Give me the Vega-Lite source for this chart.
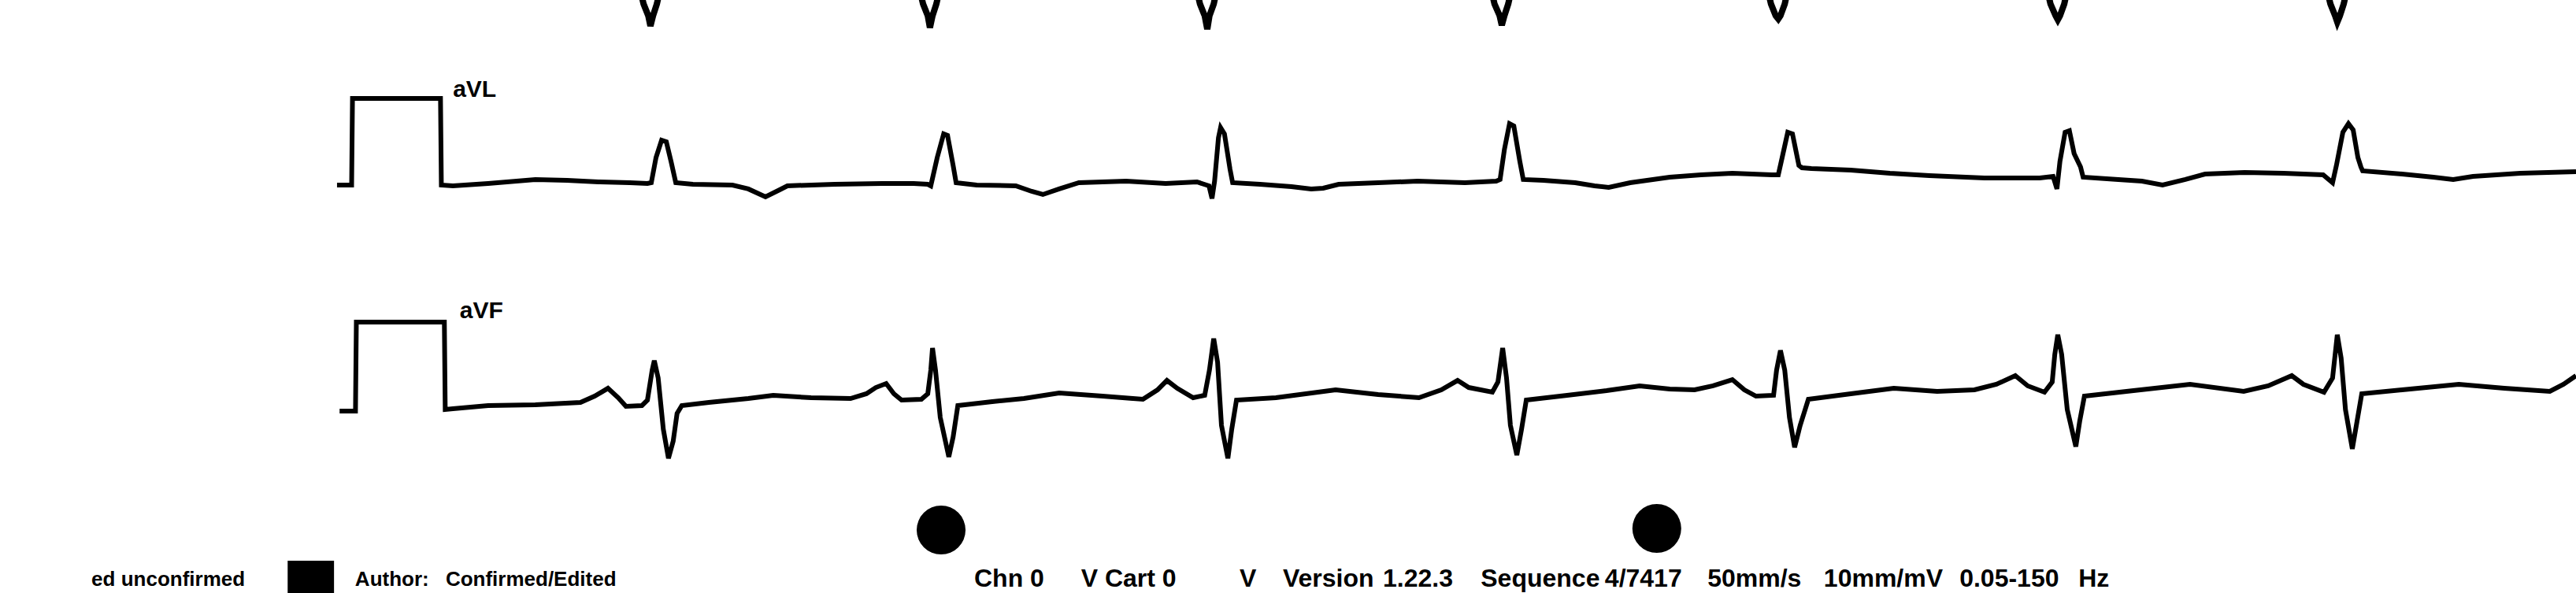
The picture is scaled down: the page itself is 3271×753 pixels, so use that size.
{
"$schema": "https://vega.github.io/schema/vega-lite/v6.json",
"width": 3271, "height": 753,
"autosize": {"type": "fit", "contains": "padding"},
"padding": 0,
"background": "white",
"config": {"view": {"stroke": null}},
"datasets": {
"aVR": [
{"t":1030,"mv":0},
{"t":1475,"mv":0},{"t":1499,"mv":-0.491},{"t":1510,"mv":-0.627},{"t":1515,"mv":-0.745},{"t":1521,"mv":-0.627},{"t":1530,"mv":-0.491},{"t":1552,"mv":0},
{"t":2126,"mv":0},{"t":2150,"mv":-0.491},{"t":2161,"mv":-0.627},{"t":2166,"mv":-0.764},{"t":2172,"mv":-0.627},{"t":2181,"mv":-0.491},{"t":2203,"mv":0},
{"t":2772,"mv":0},{"t":2795,"mv":-0.491},{"t":2806,"mv":-0.627},{"t":2812,"mv":-0.782},{"t":2817,"mv":-0.627},{"t":2827,"mv":-0.491},{"t":2849,"mv":0},
{"t":3458,"mv":0},{"t":3481,"mv":-0.491},{"t":3493,"mv":-0.627},{"t":3498,"mv":-0.736},{"t":3504,"mv":-0.627},{"t":3513,"mv":-0.491},{"t":3535,"mv":0},
{"t":4102,"mv":0},{"t":4125,"mv":-0.491},{"t":4136,"mv":-0.627},{"t":4142,"mv":-0.664},{"t":4147,"mv":-0.627},{"t":4157,"mv":-0.491},{"t":4179,"mv":0},
{"t":4753,"mv":0},{"t":4776,"mv":-0.491},{"t":4788,"mv":-0.627},{"t":4793,"mv":-0.673},{"t":4798,"mv":-0.627},{"t":4808,"mv":-0.491},{"t":4830,"mv":0},
{"t":5404,"mv":0},{"t":5428,"mv":-0.491},{"t":5439,"mv":-0.627},{"t":5444,"mv":-0.7},{"t":5450,"mv":-0.627},{"t":5459,"mv":-0.491},{"t":5481,"mv":0},
{"t":6000,"mv":0}
],
"aVL": [
{"t":785,"mv":0},{"t":819,"mv":0},{"t":821,"mv":1.0},{"t":1026,"mv":1.0},{"t":1028,"mv":0},
{"t":1055,"mv":-0.009},{"t":1137,"mv":0.018},{"t":1247,"mv":0.064},{"t":1321,"mv":0.055},{"t":1394,"mv":0.036},{"t":1467,"mv":0.027},{"t":1508,"mv":0.018},{"t":1517,"mv":0.027},{"t":1528,"mv":0.318},{"t":1541,"mv":0.518},{"t":1552,"mv":0.5},{"t":1563,"mv":0.273},{"t":1574,"mv":0.027},{"t":1614,"mv":0.009},{"t":1706,"mv":0},{"t":1743,"mv":-0.045},{"t":1783,"mv":-0.136},{"t":1816,"mv":-0.055},{"t":1834,"mv":-0.009},{"t":1944,"mv":0.009},{"t":2054,"mv":0.018},{"t":2128,"mv":0.018},{"t":2161,"mv":0.009},{"t":2168,"mv":-0.009},{"t":2183,"mv":0.318},{"t":2198,"mv":0.591},{"t":2207,"mv":0.573},{"t":2220,"mv":0.227},{"t":2227,"mv":0.027},{"t":2275,"mv":0},{"t":2366,"mv":-0.009},{"t":2403,"mv":-0.073},{"t":2429,"mv":-0.109},{"t":2467,"mv":-0.045},{"t":2513,"mv":0.027},{"t":2623,"mv":0.045},{"t":2715,"mv":0.018},{"t":2788,"mv":0.036},{"t":2816,"mv":-0.009},{"t":2823,"mv":-0.155},{"t":2829,"mv":0.045},{"t":2838,"mv":0.545},{"t":2843,"mv":0.664},{"t":2852,"mv":0.591},{"t":2865,"mv":0.182},{"t":2871,"mv":0.027},{"t":2935,"mv":0.009},{"t":3008,"mv":-0.018},{"t":3054,"mv":-0.045},{"t":3082,"mv":-0.036},{"t":3118,"mv":0.009},{"t":3210,"mv":0.027},{"t":3302,"mv":0.045},{"t":3412,"mv":0.027},{"t":3485,"mv":0.045},{"t":3494,"mv":0.064},{"t":3504,"mv":0.409},{"t":3516,"mv":0.709},{"t":3526,"mv":0.682},{"t":3540,"mv":0.273},{"t":3548,"mv":0.064},{"t":3595,"mv":0.055},{"t":3669,"mv":0.027},{"t":3714,"mv":-0.009},{"t":3747,"mv":-0.027},{"t":3797,"mv":0.027},{"t":3889,"mv":0.091},{"t":3962,"mv":0.118},{"t":4035,"mv":0.136},{"t":4127,"mv":0.118},{"t":4142,"mv":0.118},{"t":4151,"mv":0.318},{"t":4164,"mv":0.609},{"t":4175,"mv":0.591},{"t":4190,"mv":0.227},{"t":4197,"mv":0.2},{"t":4219,"mv":0.191},{"t":4311,"mv":0.173},{"t":4402,"mv":0.136},{"t":4494,"mv":0.109},{"t":4622,"mv":0.082},{"t":4751,"mv":0.082},{"t":4782,"mv":0.1},{"t":4791,"mv":-0.045},{"t":4798,"mv":0.273},{"t":4810,"mv":0.609},{"t":4820,"mv":0.627},{"t":4831,"mv":0.364},{"t":4846,"mv":0.209},{"t":4852,"mv":0.091},{"t":4934,"mv":0.064},{"t":4989,"mv":0.045},{"t":5037,"mv":0},{"t":5090,"mv":0.064},{"t":5136,"mv":0.127},{"t":5228,"mv":0.145},{"t":5319,"mv":0.136},{"t":5411,"mv":0.118},{"t":5433,"mv":0.027},{"t":5442,"mv":0.227},{"t":5457,"mv":0.609},{"t":5470,"mv":0.709},{"t":5481,"mv":0.636},{"t":5492,"mv":0.318},{"t":5499,"mv":0.209},{"t":5503,"mv":0.164},{"t":5595,"mv":0.127},{"t":5668,"mv":0.091},{"t":5714,"mv":0.064},{"t":5760,"mv":0.1},{"t":5870,"mv":0.136},{"t":6000,"mv":0.155}
],
"aVF": [
{"t":791,"mv":-0.027},{"t":828,"mv":-0.027},{"t":830,"mv":1.0},{"t":1035,"mv":1.0},{"t":1037,"mv":-0.009},
{"t":1055,"mv":0},{"t":1137,"mv":0.036},{"t":1247,"mv":0.045},{"t":1352,"mv":0.073},{"t":1385,"mv":0.145},{"t":1416,"mv":0.236},{"t":1440,"mv":0.127},{"t":1458,"mv":0.027},{"t":1495,"mv":0.036},{"t":1508,"mv":0.1},{"t":1519,"mv":0.445},{"t":1524,"mv":0.555},{"t":1533,"mv":0.355},{"t":1545,"mv":-0.236},{"t":1557,"mv":-0.573},{"t":1568,"mv":-0.373},{"t":1577,"mv":-0.055},{"t":1588,"mv":0.036},{"t":1651,"mv":0.073},{"t":1743,"mv":0.118},{"t":1801,"mv":0.155},{"t":1889,"mv":0.127},{"t":1981,"mv":0.118},{"t":2018,"mv":0.173},{"t":2040,"mv":0.245},{"t":2064,"mv":0.291},{"t":2082,"mv":0.173},{"t":2100,"mv":0.1},{"t":2146,"mv":0.109},{"t":2161,"mv":0.173},{"t":2168,"mv":0.445},{"t":2172,"mv":0.7},{"t":2179,"mv":0.445},{"t":2190,"mv":-0.1},{"t":2210,"mv":-0.555},{"t":2220,"mv":-0.327},{"t":2231,"mv":0.036},{"t":2311,"mv":0.082},{"t":2385,"mv":0.118},{"t":2467,"mv":0.182},{"t":2568,"mv":0.145},{"t":2662,"mv":0.109},{"t":2696,"mv":0.218},{"t":2718,"mv":0.327},{"t":2742,"mv":0.236},{"t":2779,"mv":0.127},{"t":2806,"mv":0.155},{"t":2817,"mv":0.445},{"t":2827,"mv":0.809},{"t":2836,"mv":0.536},{"t":2845,"mv":-0.191},{"t":2860,"mv":-0.573},{"t":2869,"mv":-0.236},{"t":2880,"mv":0.1},{"t":2972,"mv":0.127},{"t":3111,"mv":0.218},{"t":3210,"mv":0.164},{"t":3305,"mv":0.127},{"t":3357,"mv":0.218},{"t":3395,"mv":0.327},{"t":3421,"mv":0.245},{"t":3476,"mv":0.191},{"t":3489,"mv":0.309},{"t":3500,"mv":0.7},{"t":3509,"mv":0.355},{"t":3518,"mv":-0.191},{"t":3533,"mv":-0.536},{"t":3544,"mv":-0.236},{"t":3555,"mv":0.1},{"t":3650,"mv":0.155},{"t":3742,"mv":0.209},{"t":3819,"mv":0.264},{"t":3889,"mv":0.227},{"t":3947,"mv":0.218},{"t":3990,"mv":0.264},{"t":4035,"mv":0.336},{"t":4063,"mv":0.218},{"t":4090,"mv":0.145},{"t":4131,"mv":0.155},{"t":4138,"mv":0.445},{"t":4147,"mv":0.673},{"t":4157,"mv":0.445},{"t":4168,"mv":-0.1},{"t":4180,"mv":-0.445},{"t":4193,"mv":-0.191},{"t":4212,"mv":0.109},{"t":4311,"mv":0.173},{"t":4411,"mv":0.236},{"t":4512,"mv":0.2},{"t":4599,"mv":0.218},{"t":4650,"mv":0.282},{"t":4694,"mv":0.382},{"t":4723,"mv":0.264},{"t":4762,"mv":0.191},{"t":4780,"mv":0.309},{"t":4786,"mv":0.627},{"t":4793,"mv":0.855},{"t":4802,"mv":0.627},{"t":4815,"mv":-0.009},{"t":4835,"mv":-0.436},{"t":4844,"mv":-0.145},{"t":4855,"mv":0.145},{"t":4953,"mv":0.2},{"t":5101,"mv":0.282},{"t":5226,"mv":0.2},{"t":5283,"mv":0.264},{"t":5338,"mv":0.382},{"t":5365,"mv":0.282},{"t":5413,"mv":0.191},{"t":5433,"mv":0.355},{"t":5444,"mv":0.855},{"t":5453,"mv":0.582},{"t":5463,"mv":-0.009},{"t":5479,"mv":-0.464},{"t":5490,"mv":-0.145},{"t":5501,"mv":0.173},{"t":5595,"mv":0.218},{"t":5727,"mv":0.282},{"t":5833,"mv":0.236},{"t":5939,"mv":0.2},{"t":5971,"mv":0.282},{"t":6000,"mv":0.382}
],
"labelL": [{"t":1055,"mv":1.1,"txt":"aVL"}],
"labelF": [{"t":1071,"mv":1.127,"txt":"aVF"}],
"dots": [{"t":2192,"mv":-1.4},{"t":3859,"mv":-1.382}],
"block": [{"t":670,"t2":778,"mv":-1.755,"mv2":-2.127}],
"footL": [{"t":213,"mv":-2.045,"txt":"ed unconfirmed"},{"t":827,"mv":-2.045,"txt":"Author:"},{"t":1038,"mv":-2.045,"txt":"Confirmed/Edited"}],
"footM": [{"t":2269,"mv":-2.055,"txt":"Chn 0"},{"t":2518,"mv":-2.055,"txt":"V Cart 0"},{"t":2887,"mv":-2.055,"txt":"V"},{"t":2988,"mv":-2.055,"txt":"Version"},{"t":3221,"mv":-2.055,"txt":"1.22.3"},{"t":3449,"mv":-2.055,"txt":"Sequence"},{"t":3738,"mv":-2.055,"txt":"4/7417"},{"t":3977,"mv":-2.055,"txt":"50mm/s"},{"t":4248,"mv":-2.055,"txt":"10mm/mV"},{"t":4564,"mv":-2.055,"txt":"0.05-150"},{"t":4841,"mv":-2.055,"txt":"Hz"}]
},
"encoding": {"x": {"field": "t", "type": "quantitative", "scale": {"domain": [0, 6000], "nice": false, "zero": false}, "axis": null}},
"layer": [
{"data": {"name": "aVR"}, "mark": {"type": "line", "color": "black", "strokeWidth": 8, "strokeJoin": "miter", "clip": true},
 "encoding": {"y": {"field": "mv", "type": "quantitative", "scale": {"domain": [-7.291, -0.445], "nice": false, "zero": false}, "axis": null}}},
{"encoding": {"y": {"field": "mv", "type": "quantitative", "scale": {"domain": [-4.709, 2.136], "nice": false, "zero": false}, "axis": null}},
 "layer": [
  {"data": {"name": "aVL"}, "mark": {"type": "line", "color": "black", "strokeWidth": 6, "clip": true}},
  {"data": {"name": "labelL"}, "mark": {"type": "text", "color": "black", "font": "Liberation Sans", "fontWeight": "bold", "fontSize": 30, "align": "left", "baseline": "middle", "clip": true}, "encoding": {"text": {"field": "txt"}}}
 ]},
{"encoding": {"y": {"field": "mv", "type": "quantitative", "scale": {"domain": [-2.127, 4.718], "nice": false, "zero": false}, "axis": null}},
 "layer": [
  {"data": {"name": "aVF"}, "mark": {"type": "line", "color": "black", "strokeWidth": 6, "clip": true}},
  {"data": {"name": "labelF"}, "mark": {"type": "text", "color": "black", "font": "Liberation Sans", "fontWeight": "bold", "fontSize": 30, "align": "left", "baseline": "middle", "clip": true}, "encoding": {"text": {"field": "txt"}}},
  {"data": {"name": "dots"}, "mark": {"type": "circle", "color": "black", "opacity": 1, "size": 3850, "clip": true}},
  {"data": {"name": "block"}, "mark": {"type": "rect", "color": "black", "clip": true}, "encoding": {"x2": {"field": "t2"}, "y2": {"field": "mv2"}}},
  {"data": {"name": "footL"}, "mark": {"type": "text", "color": "black", "font": "Liberation Sans", "fontWeight": "bold", "fontSize": 26, "align": "left", "baseline": "alphabetic", "clip": true}, "encoding": {"text": {"field": "txt"}}},
  {"data": {"name": "footM"}, "mark": {"type": "text", "color": "black", "font": "Liberation Sans", "fontWeight": "bold", "fontSize": 32, "align": "left", "baseline": "alphabetic", "clip": true}, "encoding": {"text": {"field": "txt"}}}
 ]}
],
"resolve": {"scale": {"y": "independent"}}
}
